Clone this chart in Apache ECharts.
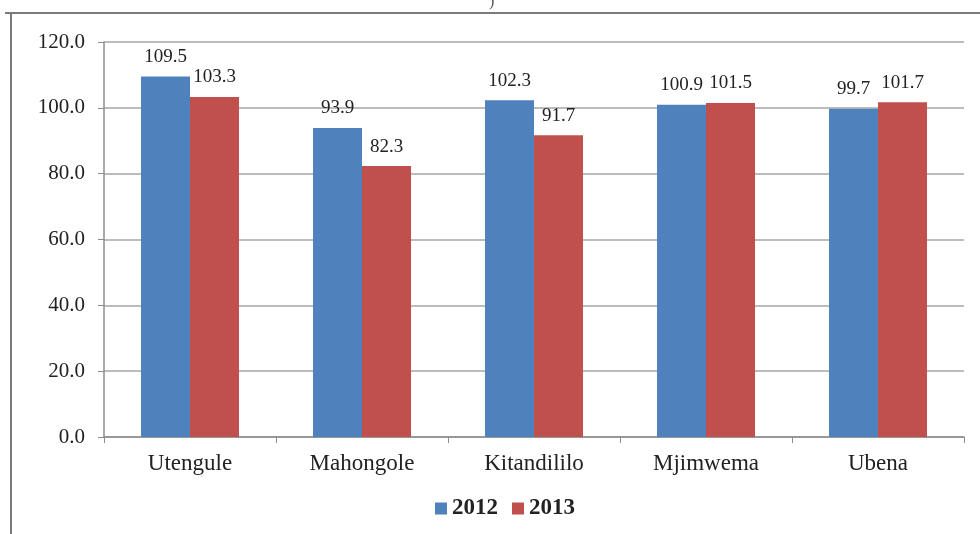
<!DOCTYPE html>
<html>
<head>
<meta charset="utf-8">
<script src="https://cdn.jsdelivr.net/npm/echarts@6/dist/echarts.min.js"></script>
<style>
  html, body { margin: 0; padding: 0; background: #ffffff; }
  #chart { width: 980px; height: 534px; }
</style>
</head>
<body>
<div id="chart"></div>
<script>
// Villages and the yearly values shown for each
const categories = ['Utengule', 'Mahongole', 'Kitandililo', 'Mjimwema', 'Ubena'];
const values2012 = [109.5, 93.9, 102.3, 100.9, 99.7];
const values2013 = [103.3, 82.3, 91.7, 101.5, 101.7];
const seriesNames = ['2012', '2013'];

const serif = '"Liberation Serif", "Times New Roman", serif';
const chart = echarts.init(document.getElementById('chart'));

const labelStyle = {
  show: true,
  position: 'top',
  distance: 10,
  color: '#222',
  fontFamily: serif,
  fontSize: 19,
  formatter: p => p.value.toFixed(1)
};

chart.setOption({
  animation: false,
  backgroundColor: '#ffffff',
  graphic: [
    { type: 'line', shape: { x1: 5, y1: 13, x2: 980, y2: 13 }, style: { stroke: '#7a7a7a', lineWidth: 2 } },
    { type: 'line', shape: { x1: 11, y1: 13, x2: 11, y2: 534 }, style: { stroke: '#7a7a7a', lineWidth: 2 } },
    { type: 'text', left: 489, top: -6, style: { text: ')', fontFamily: serif, fontSize: 16, fill: '#555' } }
  ],
  grid: { left: 104, right: 16, top: 42, bottom: 97, containLabel: false },
  legend: {
    bottom: 9,
    left: 430,
    itemWidth: 12,
    itemHeight: 12,
    itemGap: 14,
    icon: 'rect',
    textStyle: { fontFamily: serif, fontSize: 23, fontWeight: 'bold', color: '#222' },
    data: seriesNames
  },
  xAxis: {
    type: 'category',
    data: categories,
    axisLine: { lineStyle: { color: '#8c8c8c', width: 1.5 } },
    axisTick: { show: true, alignWithLabel: false, length: 6, lineStyle: { color: '#8c8c8c' } },
    axisLabel: { fontFamily: serif, fontSize: 23, color: '#222', margin: 15 }
  },
  yAxis: {
    type: 'value',
    min: 0,
    max: 120,
    interval: 20,
    axisLine: { show: true, lineStyle: { color: '#8c8c8c', width: 1.5 } },
    axisTick: { show: true, length: 6, inside: false, lineStyle: { color: '#8c8c8c' } },
    splitLine: { lineStyle: { color: '#a6a6a6', width: 1.5 } },
    axisLabel: { fontFamily: serif, fontSize: 21, color: '#222', margin: 19, formatter: v => v.toFixed(1) }
  },
  series: [
    {
      name: seriesNames[0],
      type: 'bar',
      data: values2012,
      barWidth: 49,
      barGap: '0%',
      itemStyle: { color: '#4f81bd' },
      label: labelStyle
    },
    {
      name: seriesNames[1],
      type: 'bar',
      data: values2013,
      barWidth: 49,
      itemStyle: { color: '#c0504d' },
      label: labelStyle
    }
  ]
});
</script>
</body>
</html>
